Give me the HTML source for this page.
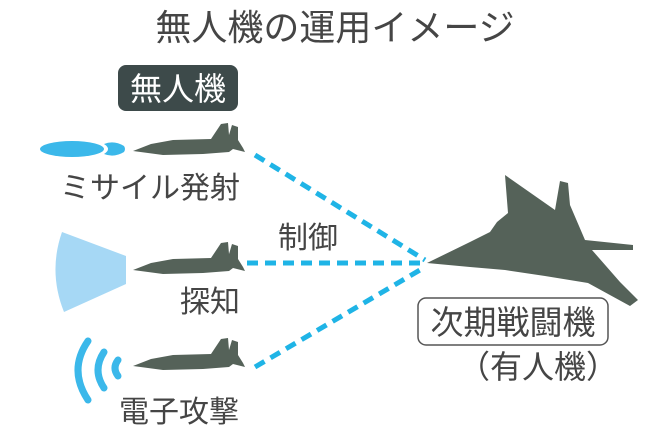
<!DOCTYPE html><html><head><meta charset="utf-8"><style>body{margin:0;background:#fff}svg{display:block}text{font-family:"Liberation Sans","Noto Sans CJK JP",sans-serif;fill:#454545}</style></head><body>
<svg width="663" height="442" viewBox="0 0 663 442" xmlns="http://www.w3.org/2000/svg">
<defs><path id="d" d="M0,0 L18,-7 L40,-11 L78,-12 L88,-27 L95,-28 L96,-16 L99,-26 L105,-24 L105,-11 L110,-3 L112,1 L100,-2 L96,1 L70,3 L30,4 Z" fill="#556259"/></defs>
<text x="335" y="40" font-size="36" text-anchor="middle">無人機の運用イメージ</text>
<rect x="118" y="65" width="120" height="46" rx="8" fill="#3d4a4a"/>
<text x="178" y="100" font-size="32" text-anchor="middle" style="fill:#fff">無人機</text>
<g stroke="#1fb4e6" stroke-width="5" stroke-dasharray="11 7" fill="none">
<line x1="255" y1="155" x2="425" y2="260"/><line x1="247" y1="263" x2="425" y2="263"/><line x1="255" y1="367" x2="425" y2="267"/></g>
<ellipse cx="72" cy="149" rx="32" ry="8" fill="#3bb8ea"/>
<path d="M104,144 Q114,140 124,146 Q126,149 124,152 Q114,158 104,154 Q112,149 104,144Z" fill="#3bb8ea"/>
<use href="#d" x="133" y="151"/>
<text x="150" y="198" font-size="30" text-anchor="middle">ミサイル発射</text>
<path d="M62,232 L126,256 L126,284 L64,312 Q48,272 62,232Z" fill="#a6d8f5"/>
<use href="#d" x="133" y="270"/>
<text x="210" y="312" font-size="30" text-anchor="middle">探知</text>
<g fill="none" stroke="#3bb8ea" stroke-width="7" stroke-linecap="round">
<path d="M88,341 Q68,370 88,400"/><path d="M104,352 Q92,370 104,388"/><path d="M118,360 Q112,368 118,376"/></g>
<use href="#d" x="133" y="366"/>
<text x="179" y="422" font-size="30" text-anchor="middle">電子攻撃</text>
<text x="308" y="248" font-size="30" text-anchor="middle">制御</text>
<path d="M427,263 L470,242 L490,232 L497,222 L508,213 L505,175 L555,210 L560,181 L568,183 L570,205 L585,240 L633,245 L633,250 L592,250 L620,282 L638,300 L630,306 L588,283 L545,276 L505,270 L470,267 Z" fill="#556259"/>
<rect x="418" y="298" width="190" height="47" rx="8" fill="#fff" stroke="#555" stroke-width="1.5"/>
<text x="513" y="334" font-size="33" text-anchor="middle">次期戦闘機</text>
<text x="538" y="378" font-size="32" text-anchor="middle">（有人機）</text>
</svg></body></html>
